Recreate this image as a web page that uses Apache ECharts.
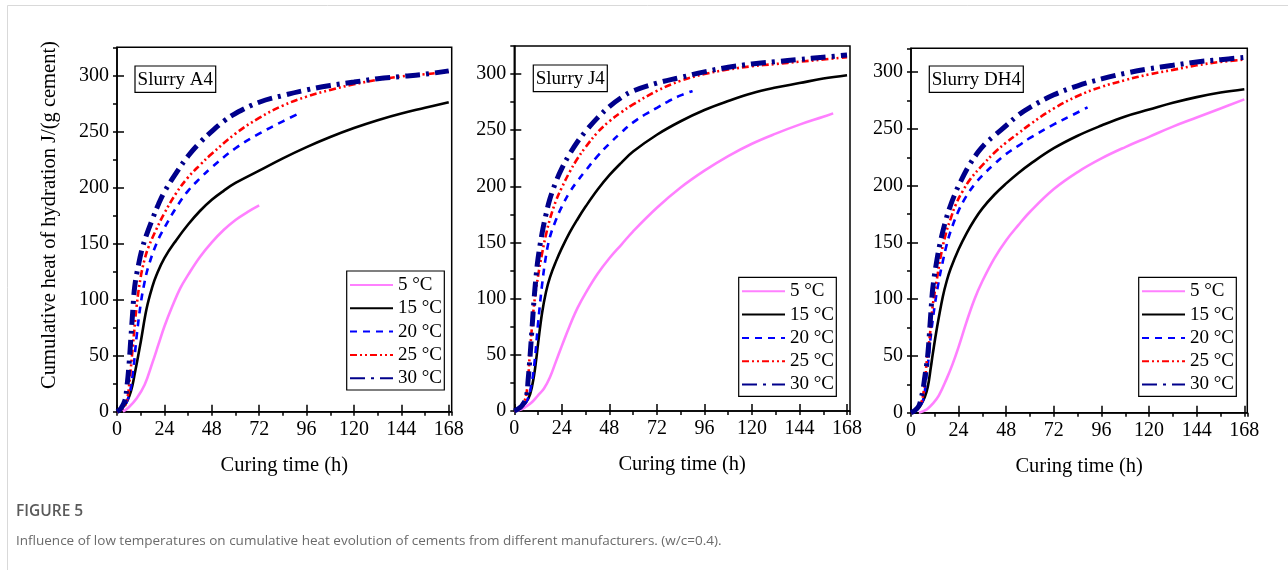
<!DOCTYPE html>
<html>
<head>
<meta charset="utf-8">
<script src="https://cdn.jsdelivr.net/npm/echarts@6/dist/echarts.min.js"></script>
<style>
html,body{margin:0;padding:0;background:#fff;}
#chart{width:1288px;height:570px;}
</style>
</head>
<body>
<div id="chart"></div>
<script>
// ---------- data ----------
const seriesNames = ['5 °C', '15 °C', '20 °C', '25 °C', '30 °C'];
const panelLabels = ['Slurry A4', 'Slurry J4', 'Slurry DH4'];
const xTicks = [0, 24, 48, 72, 96, 120, 144, 168];
const yTicks = [0, 50, 100, 150, 200, 250, 300];
const xTitle = 'Curing time (h)';
const yTitle = 'Cumulative heat of hydration J/(g cement)';
const caption = 'Influence of low temperatures on cumulative heat evolution of cements from different manufacturers. (w/c=0.4).';

// Slurry A4  [time h, heat J/g]
const a4_5C  = [[3,0],[6,4],[10,12],[14,24],[18,44],[21,60],[24,76],[28,94],[32,110],[36,122],[42,138],[48,151],[54,162],[60,171],[66,178],[72,184]];
const a4_15C = [[0,0],[4,6],[7,18],[9,34],[12,62],[15,92],[18,112],[20,122],[24,137],[30,153],[36,167],[42,179],[48,189],[54,197],[60,204],[72,215],[84,226],[96,236],[108,245],[120,253],[132,260],[144,266],[156,271],[168,276]];
const a4_20C = [[0,0],[3,3],[6,14],[8,34],[10,68],[12,96],[14,116],[16,130],[20,150],[24,164],[30,182],[36,197],[42,208],[48,218],[60,235],[72,248],[84,259],[91,265]];
const a4_25C = [[0,0],[3,3],[5,10],[6.5,30],[8,58],[10,95],[12,120],[14,136],[16,147],[20,163],[24,177],[30,195],[36,209],[42,220],[48,230],[60,248],[72,262],[84,273],[96,281],[108,287],[120,292],[132,296],[144,299],[156,301],[168,303]];
const a4_30C = [[0,0],[2,3],[4,10],[5,22],[6,40],[7,65],[8,90],[9,112],[11,132],[13,147],[15,158],[18,172],[21,185],[24,196],[30,213],[36,228],[42,240],[48,250],[54,259],[60,266],[72,276],[84,282],[96,287],[108,291],[120,294],[132,297],[144,299],[156,301],[168,304]];

// Slurry J4
const j4_5C  = [[0,0],[3,1],[6,4],[9,8],[12,14],[15,20],[18,30],[21,44],[24,58],[28,76],[32,92],[36,105],[42,122],[48,136],[54,148],[60,160],[72,181],[84,199],[96,214],[108,227],[120,238],[132,247],[144,255],[156,262],[161,265]];
const j4_15C = [[0,0],[3,3],[6,8],[8,15],[10,32],[11,45],[12,60],[14,87],[16,106],[18,119],[21,133],[24,145],[28,159],[32,171],[36,182],[42,197],[48,210],[54,221],[60,231],[72,246],[84,258],[96,268],[108,276],[120,283],[132,288],[144,292],[156,296],[168,299]];
const j4_20C = [[0,0],[3,3],[6,8],[8,18],[10,40],[12,78],[14,112],[16,138],[18,155],[21,170],[24,182],[28,195],[32,205],[36,214],[42,227],[48,238],[54,248],[60,257],[66,264],[72,270],[78,276],[84,281],[90,285]];
const j4_25C = [[0,0],[3,3],[5,8],[6.5,20],[8,55],[10,95],[12,120],[14,140],[16,157],[18,171],[21,187],[24,199],[28,213],[32,225],[36,235],[42,248],[48,258],[54,266],[60,273],[72,285],[84,294],[96,300],[108,304],[120,307],[132,309],[144,311],[156,313],[168,315]];
const j4_30C = [[0,0],[2,2],[4,5],[6,12],[7,28],[8,50],[9,75],[10,100],[11,120],[12,136],[14,158],[16,175],[18,189],[21,204],[24,216],[28,229],[32,240],[36,249],[42,261],[48,271],[54,279],[60,285],[72,292],[84,297],[96,302],[108,306],[120,309],[132,311],[144,313],[156,315],[168,317]];

// Slurry DH4
const dh4_5C  = [[4,0],[8,3],[11,8],[14,15],[18,30],[21,43],[24,58],[28,80],[32,100],[36,116],[42,136],[48,152],[54,165],[60,177],[72,197],[84,212],[96,224],[108,234],[120,243],[132,252],[144,260],[156,268],[168,276]];
const dh4_15C = [[0,0],[3,3],[5,7],[7,14],[8.5,23],[10,40],[11,52],[13,74],[16,102],[18,116],[20,127],[24,144],[28,158],[32,170],[36,180],[42,192],[48,202],[54,211],[60,219],[72,233],[84,244],[96,253],[108,261],[120,267],[132,273],[144,278],[156,282],[168,285]];
const dh4_20C = [[0,0],[3,3],[5,7],[6.5,14],[7.6,29],[9,50],[10,68],[12,95],[14,116],[16,133],[18,148],[20,160],[24,178],[28,191],[32,201],[36,209],[42,219],[48,228],[54,235],[60,242],[72,254],[80,261],[89,269]];
const dh4_25C = [[0,0],[3,3],[5,8],[6.5,20],[8,46],[9.5,68],[11,95],[13,117],[15,138],[17.6,158],[20,171],[22.5,183],[26,195],[30,206],[36,218],[42,229],[48,238],[54,246],[60,254],[72,268],[84,279],[96,287],[108,293],[120,298],[132,302],[144,306],[156,309],[168,311]];
const dh4_30C = [[0,0],[2,2],[4,6],[5,12],[6,20],[7,32],[8.4,50],[10,88],[11,110],[13,134],[15,152],[17.6,170],[20,183],[22,192],[24,200],[29,217],[34,230],[38,238],[42,244],[48,253],[54,262],[60,269],[72,280],[84,288],[96,294],[108,299],[120,303],[132,306],[144,309],[156,311],[168,313]];

const panelData = [
  [a4_5C, a4_15C, a4_20C, a4_25C, a4_30C],
  [j4_5C, j4_15C, j4_20C, j4_25C, j4_30C],
  [dh4_5C, dh4_15C, dh4_20C, dh4_25C, dh4_30C]
];

// ---------- styles / layout ----------
const SERIF = '"Liberation Serif", "Times New Roman", serif';
const SANS = '"Open Sans", "Noto Sans", sans-serif';
const lineStyles = [
  {color: '#FF80FF', width: 2.6, type: 'solid'},
  {color: '#000000', width: 2.6, type: 'solid'},
  {color: '#0000FF', width: 2.6, type: [7, 6]},
  {color: '#FF0000', width: 2.6, type: [7, 3, 2, 3, 2, 3]},
  {color: '#00008B', width: 5, type: [15, 6, 3, 6]}
];
const grids = [
  {left: 117, top: 47.3, width: 334.7, height: 364.4},
  {left: 514.3, top: 46, width: 335.7, height: 365},
  {left: 911, top: 48.3, width: 336.3, height: 364.4}
];
const yMaxes = [325, 325, 321];
const xMax = 169.5;
const legendPos = [
  {left: 346.7, top: 271},
  {left: 738.7, top: 277.3},
  {left: 1138.7, top: 277.3}
];
const labelBoxes = [
  {x: 135, y: 66, w: 80.7, h: 26.3},
  {x: 533.3, y: 65, w: 74, h: 26.7},
  {x: 929.3, y: 66, w: 94, h: 26.3}
];

const xAxes = [], yAxes = [], series = [], legends = [], graphics = [];
grids.forEach((g, i) => {
  g.show = true; g.borderColor = '#000'; g.borderWidth = 1.5; g.backgroundColor = 'transparent';
  xAxes.push({
    gridIndex: i, type: 'value', min: 0, max: xMax, interval: 24,
    name: xTitle, nameLocation: 'middle', nameGap: 43,
    nameTextStyle: {fontFamily: SERIF, fontSize: 20.5, color: '#000'},
    axisLine: {show: true, lineStyle: {color: '#000', width: 1.5}},
    axisTick: {show: true, inside: true, length: 7, lineStyle: {color: '#000', width: 1.5}},
    axisLabel: {show: true, margin: 8, fontFamily: SERIF, fontSize: 20, color: '#000', showMaxLabel: false,
      formatter: v => (xTicks.indexOf(v) >= 0 ? String(v) : '')},
    splitLine: {show: false}
  });
  xAxes.push({
    gridIndex: i, type: 'value', min: 0, max: xMax, interval: 12,
    axisLine: {show: false},
    axisTick: {show: true, inside: true, length: 4, lineStyle: {color: '#000', width: 1.5}},
    axisLabel: {show: false}, splitLine: {show: false}
  });
  yAxes.push({
    gridIndex: i, type: 'value', min: 0, max: yMaxes[i], interval: 50,
    axisLine: {show: true, lineStyle: {color: '#000', width: 1.5}},
    axisTick: {show: true, inside: true, length: 7, lineStyle: {color: '#000', width: 1.5}},
    axisLabel: {show: true, margin: 8, fontFamily: SERIF, fontSize: 20, color: '#000', showMaxLabel: false,
      formatter: v => (yTicks.indexOf(v) >= 0 ? String(v) : '')},
    splitLine: {show: false}
  });
  yAxes.push({
    gridIndex: i, type: 'value', min: 0, max: yMaxes[i], interval: 25,
    axisLine: {show: false},
    axisTick: {show: true, inside: true, length: 4, lineStyle: {color: '#000', width: 1.5}},
    axisLabel: {show: false}, splitLine: {show: false}
  });
  panelData[i].forEach((d, k) => {
    series.push({
      type: 'line', name: seriesNames[k], xAxisIndex: 2 * i, yAxisIndex: 2 * i,
      data: d, symbol: 'none', smooth: 0.4,
      lineStyle: lineStyles[k], itemStyle: {color: lineStyles[k].color},
      z: 2 + k, animation: false
    });
  });
  legends.push({
    orient: 'vertical', left: legendPos[i].left, top: legendPos[i].top,
    data: seriesNames, itemWidth: 43, itemHeight: 14, itemGap: 4.3,
    padding: [4.5, 2.3, 2.3, 2.3], borderColor: '#000', borderWidth: 1.2,
    backgroundColor: '#fff', selectedMode: false,
    itemStyle: {opacity: 0},
    textStyle: {fontFamily: SERIF, fontSize: 19, color: '#000', lineHeight: 19}
  });
  const b = labelBoxes[i];
  graphics.push({type: 'rect', shape: {x: b.x, y: b.y, width: b.w, height: b.h},
    style: {fill: '#fff', stroke: '#000', lineWidth: 1.2}, z: 50});
  graphics.push({type: 'text', x: b.x + b.w / 2, y: b.y + b.h / 2 + 0.5,
    style: {text: panelLabels[i], fontFamily: SERIF, fontSize: 19, fill: '#000', align: 'center', verticalAlign: 'middle'}, z: 51});
});

graphics.push({type: 'text', x: 50, y: 215, rotation: Math.PI / 2,
  style: {text: yTitle, fontFamily: SERIF, fontSize: 20.5, fill: '#000', align: 'center', verticalAlign: 'middle'}});
graphics.push({type: 'line', shape: {x1: 7.5, y1: 5.5, x2: 1288, y2: 5.5}, style: {stroke: '#d9d9d9', lineWidth: 1}});
graphics.push({type: 'line', shape: {x1: 7.5, y1: 5.5, x2: 7.5, y2: 570}, style: {stroke: '#d9d9d9', lineWidth: 1}});
graphics.push({type: 'text', x: 16, y: 512,
  style: {text: 'FIGURE 5', fontFamily: SANS, fontSize: 15.5, fontWeight: 600, fill: '#5a5a5a', align: 'left', verticalAlign: 'middle'}});
graphics.push({type: 'text', x: 16, y: 541,
  style: {text: caption, fontFamily: SANS, fontSize: 13.5, fill: '#6b6b6b', align: 'left', verticalAlign: 'middle'}});

const chart = echarts.init(document.getElementById('chart'), null, {renderer: 'canvas'});
chart.setOption({
  animation: false,
  backgroundColor: '#fff',
  grid: grids,
  xAxis: xAxes,
  yAxis: yAxes,
  legend: legends,
  series: series,
  graphic: graphics
});
</script>
</body>
</html>
